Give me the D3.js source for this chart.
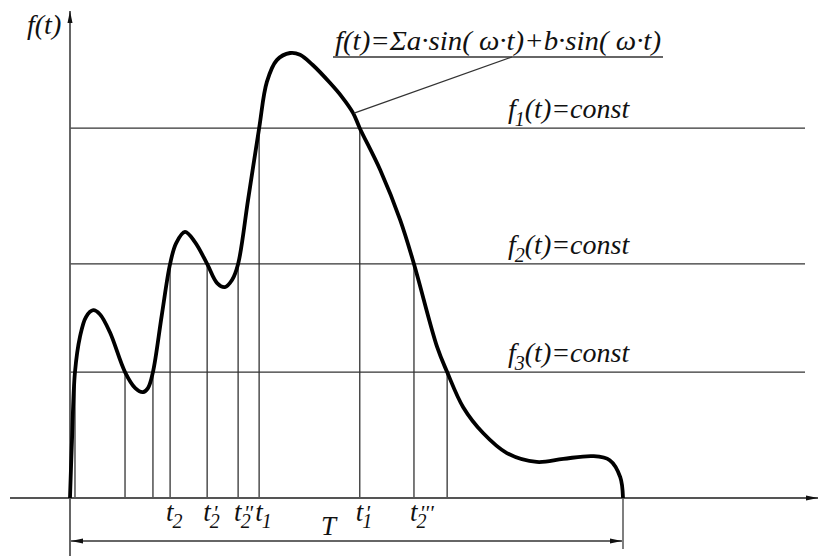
<!DOCTYPE html>
<meta charset="utf-8"/>
<html>
  <head>
    <script src="https://d3js.org/d3.v7.min.js"></script>
    <style>
      body { margin: 0; background: #fff; }
    </style>
  </head>
  <body>
<script type="text/javascript">
// curve f(t): t in 0..100 (T), f in 0..100 (peak)
var curveT = [0, 0.36, 0.9, 1.8, 2.9, 4.2, 5.4, 7.2, 9.95, 11.8, 13.2, 14.1, 15.0, 16.6, 18.1, 19.2, 20.8, 22.6, 24.8, 26.6, 28.0, 29.3, 30.4, 32.2, 34.2, 35.6, 37.4, 39.8, 41.6, 43.9, 47.0, 49.2, 51.2, 52.4, 56.1, 59.7, 62.2, 66.4, 68.2, 71.1, 74.7, 79.0, 84.4, 89.2, 94.6, 97.6, 99.5, 100];
var curveF = [0, 13.0, 28.3, 36.2, 40.7, 42.2, 41.3, 37.3, 28.3, 24.7, 23.8, 24.7, 28.3, 41.1, 52.6, 57.3, 59.8, 57.5, 52.6, 48.3, 47.4, 49.0, 52.6, 67.0, 83.1, 93.5, 98.4, 100, 99.6, 97.3, 93.3, 90.1, 86.5, 83.1, 73.7, 62.5, 52.6, 33.9, 28.3, 20.4, 14.6, 10.1, 8.1, 8.8, 9.4, 8.5, 4.7, 0];

// constant levels f1, f2, f3
var levels = [83.1, 52.6, 28.3];
var levelSubs = ['1', '2', '3'];

// points where the curve crosses a level
var crossT = [0.9, 9.95, 15.0, 68.2, 18.1, 24.8, 30.4, 62.2, 34.2, 52.4];
var crossLevel = [2, 2, 2, 2, 1, 1, 1, 1, 0, 0];

// tick labels on the t axis
var tickT = [18.1, 24.8, 30.4, 34.2, 52.4, 62.2];
var tickSub = ['2', '2', '2', '1', '1', '2'];
var tickPrime = ['', "'", "''", '', "'", "'''"];

var formula = 'f(t)=\u03A3a\u00B7sin( \u03C9\u00B7t)+b\u00B7sin( \u03C9\u00B7t)';

var width = 820, height = 557;
var x = d3.scaleLinear().domain([0, 100]).range([70, 623]);
var y = d3.scaleLinear().domain([0, 100]).range([498, 53]);

var svg = d3.select('body').append('svg')
    .attr('width', width)
    .attr('height', height);

function label(sel) {
  return sel.append('text')
      .attr('font-family', 'Liberation Serif')
      .attr('font-style', 'italic')
      .attr('fill', '#111');
}

var defs = svg.append('defs');
defs.append('marker')
    .attr('id', 'arr')
    .attr('viewBox', '0 0 12 6')
    .attr('refX', 12).attr('refY', 3)
    .attr('markerWidth', 12).attr('markerHeight', 6)
    .attr('markerUnits', 'userSpaceOnUse')
    .attr('orient', 'auto-start-reverse')
  .append('path')
    .attr('d', 'M0,0.5 L12,3 L0,5.5 Z')
    .attr('fill', '#111');

// level lines
svg.append('g')
  .selectAll('line')
  .data(levels)
  .enter()
  .append('line')
    .attr('x1', x(0)).attr('x2', 805)
    .attr('y1', function(d) { return y(d); })
    .attr('y2', function(d) { return y(d); })
    .attr('stroke', '#333')
    .attr('stroke-width', 1.3);

// vertical drop lines
svg.append('g')
  .selectAll('line')
  .data(crossT)
  .enter()
  .append('line')
    .attr('x1', function(d) { return x(d); })
    .attr('x2', function(d) { return x(d); })
    .attr('y1', function(d, i) { return y(levels[crossLevel[i]]); })
    .attr('y2', y(0))
    .attr('stroke', '#333')
    .attr('stroke-width', 1.3);

// end of period line
svg.append('line')
    .attr('x1', x(100)).attr('x2', x(100))
    .attr('y1', y(0)).attr('y2', 549)
    .attr('stroke', '#555').attr('stroke-width', 1.5);

// axes
svg.append('line')
    .attr('x1', 10).attr('x2', 818)
    .attr('y1', y(0)).attr('y2', y(0))
    .attr('stroke', '#555').attr('stroke-width', 1.8)
    .attr('marker-end', 'url(#arr)');
svg.append('line')
    .attr('x1', x(0)).attr('x2', x(0))
    .attr('y1', 556).attr('y2', 11)
    .attr('stroke', '#555').attr('stroke-width', 1.8)
    .attr('marker-end', 'url(#arr)');

// T dimension
svg.append('line')
    .attr('x1', x(0) + 1).attr('x2', x(100) - 1)
    .attr('y1', 541).attr('y2', 541)
    .attr('stroke', '#666').attr('stroke-width', 2.2)
    .attr('marker-start', 'url(#arr)')
    .attr('marker-end', 'url(#arr)');
label(svg)
    .attr('x', 321).attr('y', 535)
    .attr('font-size', 27)
    .text('T');

// the curve
var line = d3.line()
    .x(function(d) { return x(d[0]); })
    .y(function(d) { return y(d[1]); })
    .curve(d3.curveCatmullRom.alpha(0.5));
svg.append('path')
    .attr('d', line(d3.zip(curveT, curveF)))
    .attr('fill', 'none')
    .attr('stroke', '#000')
    .attr('stroke-width', 3.8)
    .attr('stroke-linejoin', 'round');

// level labels
levels.forEach(function(v, i) {
  var t = label(svg)
      .attr('x', 508).attr('y', y(v) - 10)
      .attr('font-size', 28);
  t.append('tspan').text('f');
  t.append('tspan').attr('font-size', 20).attr('dx', -1).attr('dy', 8).text(levelSubs[i]);
  t.append('tspan').attr('dy', -8).text('(t)=const');
});

// t tick labels
tickT.forEach(function(v, i) {
  var t = label(svg)
      .attr('x', x(v) - 4).attr('y', 521)
      .attr('font-size', 27);
  t.append('tspan').text('t');
  t.append('tspan').attr('font-size', 20).attr('dx', -1).attr('dy', 7).text(tickSub[i]);
  if (tickPrime[i]) {
    t.append('tspan').attr('font-size', 22).attr('dx', -7).attr('dy', -8).text(tickPrime[i]);
  }
});

// axis label
label(svg)
    .attr('x', 27).attr('y', 34)
    .attr('font-size', 28)
    .text('f(t)');

// formula with leader
label(svg)
    .attr('x', 335).attr('y', 50)
    .attr('font-size', 27)
    .attr('textLength', 326)
    .attr('lengthAdjust', 'spacingAndGlyphs')
    .text(formula);
svg.append('line')
    .attr('x1', 333).attr('x2', 663)
    .attr('y1', 57).attr('y2', 57)
    .attr('stroke', '#333').attr('stroke-width', 1.3);
svg.append('line')
    .attr('x1', 512).attr('x2', x(51.2) + 1)
    .attr('y1', 57).attr('y2', y(86.5))
    .attr('stroke', '#333').attr('stroke-width', 1.2);
</script>
  </body>
</html>
